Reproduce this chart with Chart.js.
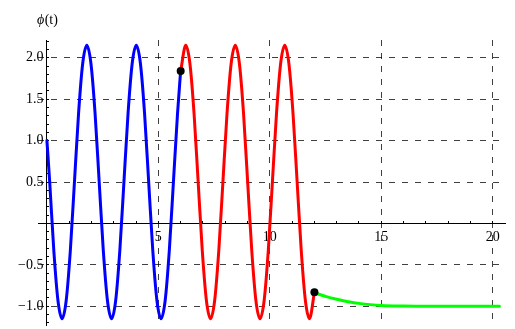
<!DOCTYPE html>
<html>
<head>
<meta charset="utf-8">
<script src="https://cdn.jsdelivr.net/npm/chart.js@4/dist/chart.umd.min.js"></script>
<style>
  html, body { margin: 0; padding: 0; background: #ffffff; }
  canvas { display: block; }
</style>
</head>
<body>
<canvas id="phiChart" width="515" height="329"></canvas>
<script>
// First stage: oscillation from t = 0 up to the switch at t = 6
const blueT = [0, 0.125, 0.31, 0.495, 0.68, 0.865, 1.05, 1.235, 1.42, 1.605, 1.79, 1.975,
  2.16, 2.345, 2.53, 2.715, 2.90, 3.085, 3.27, 3.455, 3.64, 3.825, 4.01, 4.195,
  4.38, 4.565, 4.75, 4.935, 5.12, 5.305, 5.49, 5.675, 5.86, 6.0];
const blueV = [1.00, 0.50, -0.33, -0.93, -1.15, -0.93, -0.33, 0.50, 1.33, 1.93, 2.15, 1.93,
  1.33, 0.50, -0.33, -0.93, -1.15, -0.93, -0.33, 0.50, 1.33, 1.93, 2.15, 1.93,
  1.33, 0.50, -0.33, -0.93, -1.15, -0.93, -0.33, 0.50, 1.33, 1.84];

// Second stage: oscillation from t = 6 to t = 12
const redT = [6.0, 6.23, 6.415, 6.60, 6.785, 6.97, 7.155, 7.34, 7.525, 7.71, 7.895, 8.08,
  8.265, 8.45, 8.635, 8.82, 9.005, 9.19, 9.375, 9.56, 9.745, 9.93, 10.115, 10.30,
  10.485, 10.67, 10.855, 11.04, 11.225, 11.41, 11.595, 11.78, 12.0];
const redV = [1.84, 2.15, 1.93, 1.33, 0.50, -0.33, -0.93, -1.15, -0.93, -0.33, 0.50, 1.33,
  1.93, 2.15, 1.93, 1.33, 0.50, -0.33, -0.93, -1.15, -0.93, -0.33, 0.50, 1.33,
  1.93, 2.15, 1.93, 1.33, 0.50, -0.33, -0.93, -1.15, -0.83];

// Third stage: relaxation towards -1 after t = 12
const greenT = [12.0, 12.2, 12.5, 13.0, 13.5, 14.0, 14.5, 15.0, 16.0, 17.0, 18.0, 19.0, 20.3];
const greenV = [-0.83, -0.855, -0.88, -0.915, -0.945, -0.965, -0.98, -0.99, -0.997, -1.0, -1.0, -1.0, -1.0];

// Switching instants
const switchT = [6.0, 12.0];
const switchV = [1.84, -0.83];

// Axis ticks
const xMajorTicks = [5, 10, 15, 20];
const xMinorStep = 1;
const yMajorTicks = [-1.0, -0.5, 0.5, 1.0, 1.5, 2.0];
const yMinorStep = 0.1;

const FONT = '"Liberation Serif", "Times New Roman", serif';
const GRID = 'rgba(0,0,0,0.75)';

const toPoints = (ts, vs) => ts.map((t, i) => ({ x: t, y: vs[i] }));

function stepValues(lo, hi, step) {
  const out = [];
  const n0 = Math.ceil(lo / step - 1e-9), n1 = Math.floor(hi / step + 1e-9);
  for (let n = n0; n <= n1; n++) {
    if (n !== 0) out.push(Math.round(n * step * 1000) / 1000);
  }
  return out;
}
const isIn = (list, v) => list.some(m => Math.abs(m - v) < 1e-6);

const X_MIN = -0.4, X_MAX = 20.55;
const Y_MIN = -1.226, Y_MAX = 2.214;

const phiLabel = {
  id: 'phiLabel',
  afterDraw(chart) {
    const ctx = chart.ctx;
    const x0 = chart.scales.x.getPixelForValue(0) - 10;
    ctx.save();
    ctx.fillStyle = '#000';
    ctx.textBaseline = 'alphabetic';
    ctx.textAlign = 'left';
    ctx.font = 'italic 14px ' + FONT;
    ctx.fillText('\u03D5', x0, 24);
    const w = ctx.measureText('\u03D5').width;
    ctx.font = '14px ' + FONT;
    ctx.fillText('(t)', x0 + w + 0.5, 24);
    ctx.restore();
  }
};

const lineStyle = color => ({
  borderColor: color,
  backgroundColor: color,
  borderWidth: 3,
  pointRadius: 0,
  pointHoverRadius: 0,
  fill: false,
  cubicInterpolationMode: 'monotone',
  borderJoinStyle: 'round',
  borderCapStyle: 'round',
});

new Chart(document.getElementById('phiChart'), {
  type: 'line',
  data: {
    datasets: [
      Object.assign({ label: 'switch', data: toPoints(switchT, switchV), showLine: false,
        pointRadius: 4, pointBackgroundColor: '#000', pointBorderColor: '#000',
        pointBorderWidth: 0, order: 0 }),
      Object.assign({ label: 'stage 3', data: toPoints(greenT, greenV), order: 1 }, lineStyle('#00ff00')),
      Object.assign({ label: 'stage 2', data: toPoints(redT, redV), order: 2 }, lineStyle('#ff0000')),
      Object.assign({ label: 'stage 1', data: toPoints(blueT, blueV), order: 3 }, lineStyle('#0000ff')),
    ]
  },
  options: {
    responsive: false,
    animation: false,
    events: [],
    layout: { padding: { left: 38, right: 10, top: 40, bottom: 0 } },
    plugins: { legend: { display: false }, tooltip: { enabled: false }, title: { display: false } },
    scales: {
      x: {
        type: 'linear',
        min: X_MIN, max: X_MAX,
        bounds: 'data',
        position: { y: 0 },
        afterBuildTicks: s => { s.ticks = stepValues(X_MIN, X_MAX, xMinorStep).map(v => ({ value: v })); },
        grid: {
          color: c => (c.tick && isIn(xMajorTicks, c.tick.value)) ? GRID : 'rgba(0,0,0,0)',
          lineWidth: 1,
          drawTicks: true,
          tickLength: -3,
          tickColor: '#000',
          tickWidth: 1,
        },
        border: { display: true, color: '#000', width: 1, dash: [6, 7] },
        ticks: {
          autoSkip: false,
          maxRotation: 0,
          minRotation: 0,
          padding: 9,
          color: '#000',
          font: { family: FONT, size: 14 },
          callback: v => isIn(xMajorTicks, v) ? String(v) : '',
        },
      },
      y: {
        type: 'linear',
        min: Y_MIN, max: Y_MAX,
        bounds: 'data',
        position: { x: 0 },
        afterBuildTicks: s => { s.ticks = stepValues(Y_MIN, Y_MAX, yMinorStep).map(v => ({ value: v })); },
        grid: {
          color: c => (c.tick && isIn(yMajorTicks, c.tick.value)) ? GRID : 'rgba(0,0,0,0)',
          lineWidth: 1,
          drawTicks: true,
          tickLength: -3,
          tickColor: '#000',
          tickWidth: 1,
        },
        border: { display: true, color: '#000', width: 1, dash: [6, 7] },
        ticks: {
          autoSkip: false,
          padding: -9,
          color: '#000',
          font: { family: FONT, size: 14 },
          callback: v => isIn(yMajorTicks, v) ? v.toFixed(1).replace('-', '\u2212') + ' ' : '',
        },
      },
    },
  },
  plugins: [phiLabel],
});
</script>
</body>
</html>
